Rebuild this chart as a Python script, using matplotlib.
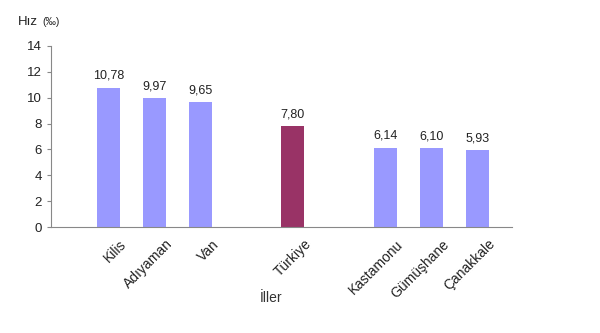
import numpy as np
import matplotlib.pyplot as plt
from matplotlib.transforms import ScaledTranslation

plt.rcParams['font.family'] = ['Liberation Sans', 'DejaVu Sans']

iller = ['Kilis', 'Adıyaman', 'Van', '', 'Türkiye', '', 'Kastamonu', 'Gümüşhane', 'Çanakkale']
hiz = [10.78, 9.97, 9.65, None, 7.80, None, 6.14, 6.10, 5.93]
renk = ['#9999FF', '#9999FF', '#9999FF', None, '#993366', None, '#9999FF', '#9999FF', '#9999FF']

fig = plt.figure(figsize=(6, 3.33), dpi=100)
ax = fig.add_axes([0.085, 0.318, 0.768, 0.544])

for i, (v, c) in enumerate(zip(hiz, renk)):
    if v is None:
        continue
    ax.bar(i, v, width=0.5, color=c, zorder=2)
    ax.text(i, v + 0.45, f'{v:.2f}'.replace('.', ','), ha='center', va='bottom',
            fontsize=9, color='#222222')

ax.set_xlim(-1.25, 8.75)
ax.set_ylim(0, 14)
ax.set_yticks(range(0, 15, 2))
ax.tick_params(axis='y', labelsize=9.5, length=3, color='#888888', labelcolor='#222222')
ax.tick_params(axis='x', length=0)

pos = [i for i, n in enumerate(iller) if n]
ax.set_xticks(pos)
ax.set_xticklabels([iller[i] for i in pos], rotation=45, ha='right',
                   rotation_mode='anchor', fontsize=10, color='#222222')
off = ScaledTranslation(11 / 100, -5 / 100, fig.dpi_scale_trans)
for lbl in ax.get_xticklabels():
    lbl.set_transform(lbl.get_transform() + off)

for s in ['top', 'right']:
    ax.spines[s].set_visible(False)
for s in ['left', 'bottom']:
    ax.spines[s].set_color('#888888')

fig.text(0.03, 0.935, 'Hız', fontsize=9.5, color='#222222', va='center')
fig.text(0.07, 0.935, '(‰)', fontsize=7.5, color='#222222', va='center')
fig.text(0.452, 0.105, 'İller', fontsize=10, color='#333333', ha='center', va='center')

plt.savefig('out.png', dpi=100)
